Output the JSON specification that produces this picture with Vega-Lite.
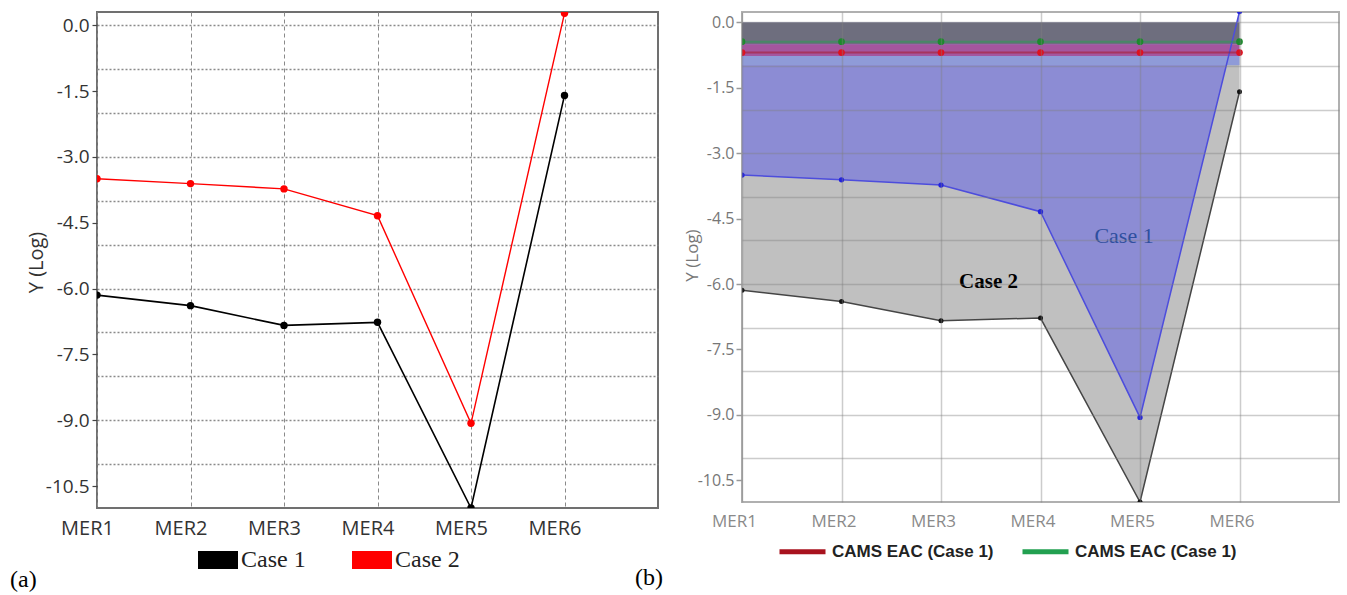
{
  "$schema": "https://vega.github.io/schema/vega-lite/v6.json",
  "background": "white",
  "padding": {"left": 9, "top": 11, "right": 0, "bottom": 0},
  "bounds": "flush",
  "spacing": 84,
  "config": {
    "locale": {"number": {"decimal": ".", "thousands": ",", "grouping": [3], "currency": ["$", ""], "minus": "-"}},
    "axis": {"labelOverlap": false}
  },
  "resolve": {
    "scale": {"stroke": "independent", "fill": "independent", "color": "independent", "x": "independent", "y": "independent"},
    "legend": {"stroke": "independent", "fill": "independent"}
  },
  "datasets": {
    "a": [
      {"mer": "MER1", "case": "Case 1", "value": -6.15},
      {"mer": "MER2", "case": "Case 1", "value": -6.39},
      {"mer": "MER3", "case": "Case 1", "value": -6.84},
      {"mer": "MER4", "case": "Case 1", "value": -6.77},
      {"mer": "MER5", "case": "Case 1", "value": -11.0},
      {"mer": "MER6", "case": "Case 1", "value": -1.6},
      {"mer": "MER1", "case": "Case 2", "value": -3.5},
      {"mer": "MER2", "case": "Case 2", "value": -3.61},
      {"mer": "MER3", "case": "Case 2", "value": -3.73},
      {"mer": "MER4", "case": "Case 2", "value": -4.34},
      {"mer": "MER5", "case": "Case 2", "value": -9.07},
      {"mer": "MER6", "case": "Case 2", "value": 0.27}
    ],
    "b": [
      {"mer": "MER1", "series": "Case 1", "value": -3.5},
      {"mer": "MER2", "series": "Case 1", "value": -3.61},
      {"mer": "MER3", "series": "Case 1", "value": -3.73},
      {"mer": "MER4", "series": "Case 1", "value": -4.34},
      {"mer": "MER5", "series": "Case 1", "value": -9.06},
      {"mer": "MER6", "series": "Case 1", "value": 0.25},
      {"mer": "MER1", "series": "Case 2", "value": -6.14},
      {"mer": "MER2", "series": "Case 2", "value": -6.4},
      {"mer": "MER3", "series": "Case 2", "value": -6.84},
      {"mer": "MER4", "series": "Case 2", "value": -6.78},
      {"mer": "MER5", "series": "Case 2", "value": -11.0},
      {"mer": "MER6", "series": "Case 2", "value": -1.59},
      {"mer": "MER1", "series": "EAC-G", "value": -0.44},
      {"mer": "MER2", "series": "EAC-G", "value": -0.44},
      {"mer": "MER3", "series": "EAC-G", "value": -0.44},
      {"mer": "MER4", "series": "EAC-G", "value": -0.44},
      {"mer": "MER5", "series": "EAC-G", "value": -0.44},
      {"mer": "MER6", "series": "EAC-G", "value": -0.44},
      {"mer": "MER1", "series": "EAC-R", "value": -0.69},
      {"mer": "MER2", "series": "EAC-R", "value": -0.69},
      {"mer": "MER3", "series": "EAC-R", "value": -0.69},
      {"mer": "MER4", "series": "EAC-R", "value": -0.69},
      {"mer": "MER5", "series": "EAC-R", "value": -0.69},
      {"mer": "MER6", "series": "EAC-R", "value": -0.69}
    ],
    "bands": [
      {"mer": "MER1", "band": "dark", "value": 0, "lo": -0.5},
      {"mer": "MER2", "band": "dark", "value": 0, "lo": -0.5},
      {"mer": "MER3", "band": "dark", "value": 0, "lo": -0.5},
      {"mer": "MER4", "band": "dark", "value": 0, "lo": -0.5},
      {"mer": "MER5", "band": "dark", "value": 0, "lo": -0.5},
      {"mer": "MER6", "band": "dark", "value": 0, "lo": -0.5},
      {"mer": "MER1", "band": "magenta", "value": -0.5, "lo": -0.77},
      {"mer": "MER2", "band": "magenta", "value": -0.5, "lo": -0.77},
      {"mer": "MER3", "band": "magenta", "value": -0.5, "lo": -0.77},
      {"mer": "MER4", "band": "magenta", "value": -0.5, "lo": -0.77},
      {"mer": "MER5", "band": "magenta", "value": -0.5, "lo": -0.77},
      {"mer": "MER6", "band": "magenta", "value": -0.5, "lo": -0.77},
      {"mer": "MER1", "band": "light", "value": -0.77, "lo": -0.98},
      {"mer": "MER2", "band": "light", "value": -0.77, "lo": -0.98},
      {"mer": "MER3", "band": "light", "value": -0.77, "lo": -0.98},
      {"mer": "MER4", "band": "light", "value": -0.77, "lo": -0.98},
      {"mer": "MER5", "band": "light", "value": -0.77, "lo": -0.98},
      {"mer": "MER6", "band": "light", "value": -0.77, "lo": -0.98}
    ],
    "notes": [
      {"mer": "MER5", "value": -4.9, "label": "Case 1"},
      {"mer": "MER4", "value": -5.96, "label": "Case 2"}
    ]
  },
  "hconcat": [
    {
      "width": 561,
      "height": 496,
      "view": {"stroke": "#707070", "strokeWidth": 2},
      "title": {"text": "(a)", "orient": "bottom", "anchor": "start", "frame": "group", "dx": -87, "offset": -4, "font": "Liberation Serif", "fontSize": 24, "fontWeight": "normal", "color": "#000000"},
      "data": {"name": "a"},
      "encoding": {
        "x": {
          "field": "mer", "type": "ordinal",
          "scale": {"type": "point", "domain": ["MER1", "MER2", "MER3", "MER4", "MER5", "MER6"], "padding": 0.5, "align": 0},
          "axis": {"title": null, "labelAngle": 0, "grid": true, "gridColor": "#8a8a8a", "gridDash": [4, 3], "gridWidth": 1, "ticks": false, "tickSize": 0, "domain": false, "labelFont": "Open Sans", "labelFontSize": 20, "labelColor": "#333333", "labelPadding": 10, "labelOffset": -10}
        },
        "y": {
          "field": "value", "type": "quantitative",
          "scale": {"domain": [-11, 0.3], "nice": false, "zero": false},
          "axis": {
            "title": "Y (Log)",
            "values": [0, -1, -1.5, -2, -3, -4, -4.5, -5, -6, -7, -7.5, -8, -9, -10, -10.5],
            "labelExpr": "datum.value % 1.5 === 0 ? format(datum.value, '.1f') : ''",
            "grid": true, "gridColor": "#8a8a8a", "gridDash": [2, 2], "gridWidth": 1.5,
            "gridOpacity": {"condition": {"test": "datum.value % 1 !== 0", "value": 0}, "value": 1},
            "ticks": true, "tickSize": 5, "tickColor": "#444444", "tickWidth": 1.2,
            "tickOpacity": {"condition": {"test": "datum.value % 1.5 !== 0", "value": 0}, "value": 1},
            "domain": false,
            "labelFont": "Open Sans", "labelFontSize": 19, "labelColor": "#333333", "labelPadding": 3,
            "titleFont": "Open Sans", "titleFontSize": 20, "titleFontWeight": "normal", "titleColor": "#333333", "titleX": -51, "titleY": 250
          }
        }
      },
      "layer": [
        {
          "transform": [{"filter": {"field": "case", "equal": "Case 1"}}],
          "mark": {"type": "line", "clip": true, "strokeWidth": 1.6, "color": "#000000"}
        },
        {
          "transform": [{"filter": {"field": "case", "equal": "Case 2"}}],
          "mark": {"type": "line", "clip": true, "strokeWidth": 1.4, "color": "#ff0000"}
        },
        {
          "mark": {"type": "point", "filled": true, "clip": true, "size": 55, "opacity": 1},
          "encoding": {
            "fill": {"field": "case", "type": "nominal", "scale": {"domain": ["Case 1", "Case 2"], "range": ["#000000", "#ff0000"]},
              "legend": {"title": null, "orient": "none", "legendX": 101, "legendY": 528, "direction": "horizontal", "symbolType": "M-1,-0.45H1V0.45H-1Z", "symbolSize": 1600, "symbolStrokeWidth": 0, "symbolOpacity": 1, "labelFont": "Liberation Serif", "labelFontSize": 24, "labelColor": "#222222", "labelOffset": 3, "labelLimit": 300, "columnPadding": 46, "padding": 0}}
          }
        }
      ]
    },
    {
      "width": 597,
      "height": 490,
      "view": {"stroke": "#b0b0b0", "strokeWidth": 2},
      "title": {"text": "(b)", "orient": "bottom", "anchor": "start", "frame": "group", "dx": -107, "offset": 4, "font": "Liberation Serif", "fontSize": 24, "fontWeight": "normal", "color": "#000000"},
      "data": {"name": "b"},
      "encoding": {
        "x": {
          "field": "mer", "type": "ordinal",
          "scale": {"type": "point", "domain": ["MER1", "MER2", "MER3", "MER4", "MER5", "MER6"], "padding": 0.5, "align": 0},
          "axis": {"title": null, "labelAngle": 0, "grid": true, "gridColor": "#808080", "gridOpacity": 0.4, "gridWidth": 1.5, "ticks": false, "tickSize": 0, "domain": false, "labelFont": "Open Sans", "labelFontSize": 17, "labelColor": "#8a8a8a", "labelPadding": 11, "labelOffset": -8, "zindex": 1}
        },
        "y": {
          "field": "value", "type": "quantitative",
          "scale": {"domain": [-11, 0.24], "nice": false, "zero": false},
          "axis": {
            "title": "Y (Log)",
            "values": [0, -1, -1.5, -2, -3, -4, -4.5, -5, -6, -7, -7.5, -8, -9, -10, -10.5],
            "labelExpr": "datum.value % 1.5 === 0 ? format(datum.value, '.1f') : ''",
            "grid": true, "gridColor": "#808080", "gridWidth": 1.5,
            "gridOpacity": {"condition": {"test": "datum.value % 1 !== 0", "value": 0}, "value": 0.4},
            "ticks": true, "tickSize": 6, "tickColor": "#999999", "tickWidth": 1.5,
            "tickOpacity": {"condition": {"test": "datum.value % 1.5 !== 0", "value": 0}, "value": 1},
            "domain": false, "zindex": 1,
            "labelFont": "Open Sans", "labelFontSize": 16, "labelColor": "#777777", "labelPadding": 2,
            "titleFont": "Open Sans", "titleFontSize": 17, "titleFontWeight": "normal", "titleColor": "#777777", "titleX": -41, "titleY": 243
          }
        }
      },
      "layer": [
        {
          "transform": [{"filter": {"field": "series", "equal": "Case 2"}}],
          "mark": {"type": "area", "color": "#c0c0c0", "opacity": 1, "clip": true},
          "encoding": {"y2": {"datum": 0}}
        },
        {
          "transform": [{"filter": {"field": "series", "equal": "Case 2"}}],
          "mark": {"type": "line", "color": "#454545", "strokeWidth": 1.5, "clip": true}
        },
        {
          "transform": [{"filter": {"field": "series", "equal": "Case 1"}}],
          "mark": {"type": "area", "color": "#8c8cd4", "opacity": 1, "clip": true},
          "encoding": {"y2": {"datum": 0}}
        },
        {
          "data": {"name": "bands"},
          "transform": [{"filter": {"field": "band", "equal": "dark"}}],
          "mark": {"type": "area", "color": "#6e6e7e", "opacity": 1, "clip": true},
          "encoding": {"y2": {"field": "lo"}}
        },
        {
          "data": {"name": "bands"},
          "transform": [{"filter": {"field": "band", "equal": "magenta"}}],
          "mark": {"type": "area", "color": "#a4569e", "opacity": 1, "clip": true},
          "encoding": {"y2": {"field": "lo"}}
        },
        {
          "data": {"name": "bands"},
          "transform": [{"filter": {"field": "band", "equal": "light"}}],
          "mark": {"type": "area", "color": "#8f9bd8", "opacity": 1, "clip": true},
          "encoding": {"y2": {"field": "lo"}}
        },
        {
          "transform": [{"filter": {"field": "series", "equal": "Case 1"}}],
          "mark": {"type": "line", "color": "#4d4ddc", "strokeWidth": 1.5, "clip": true}
        },
        {
          "transform": [{"filter": {"field": "series", "oneOf": ["EAC-R", "EAC-G"]}}],
          "mark": {"type": "line", "strokeWidth": 2, "opacity": 0.5, "clip": true},
          "encoding": {
            "stroke": {"field": "series", "type": "nominal", "scale": {"domain": ["EAC-R", "EAC-G"], "range": ["#a8121e", "#22a050"]},
              "legend": {"title": null, "orient": "none", "legendX": 35, "legendY": 514, "direction": "horizontal", "symbolType": "stroke", "symbolSize": 2116, "symbolStrokeWidth": 5, "symbolOpacity": 1, "labelFont": "Liberation Sans", "labelFontSize": 17, "labelFontWeight": "bold", "labelColor": "#222222", "labelOffset": 4, "labelLimit": 300, "labelExpr": "'CAMS EAC (Case 1)'", "columnPadding": 18, "padding": 0}}
          }
        },
        {
          "transform": [{"filter": {"field": "series", "equal": "Case 2"}}],
          "mark": {"type": "circle", "color": "#111111", "size": 25, "opacity": 1, "clip": true}
        },
        {
          "transform": [{"filter": {"field": "series", "equal": "Case 1"}}],
          "mark": {"type": "circle", "color": "#2222dd", "size": 28, "opacity": 1, "clip": true}
        },
        {
          "transform": [{"filter": {"field": "series", "equal": "EAC-G"}}],
          "mark": {"type": "circle", "color": "#1c8a2c", "size": 45, "opacity": 1, "clip": true}
        },
        {
          "transform": [{"filter": {"field": "series", "equal": "EAC-R"}}],
          "mark": {"type": "circle", "color": "#e0101e", "size": 45, "opacity": 1, "clip": true}
        },
        {
          "data": {"name": "notes"},
          "transform": [{"filter": {"field": "label", "equal": "Case 1"}}],
          "mark": {"type": "text", "font": "Liberation Serif", "fontSize": 22, "color": "#2f4f9f", "dx": -16, "align": "center", "baseline": "middle"},
          "encoding": {"text": {"field": "label"}}
        },
        {
          "data": {"name": "notes"},
          "transform": [{"filter": {"field": "label", "equal": "Case 2"}}],
          "mark": {"type": "text", "font": "Liberation Serif", "fontSize": 21, "fontWeight": "bold", "color": "#000000", "dx": -52, "align": "center", "baseline": "middle"},
          "encoding": {"text": {"field": "label"}}
        }
      ]
    }
  ]
}
